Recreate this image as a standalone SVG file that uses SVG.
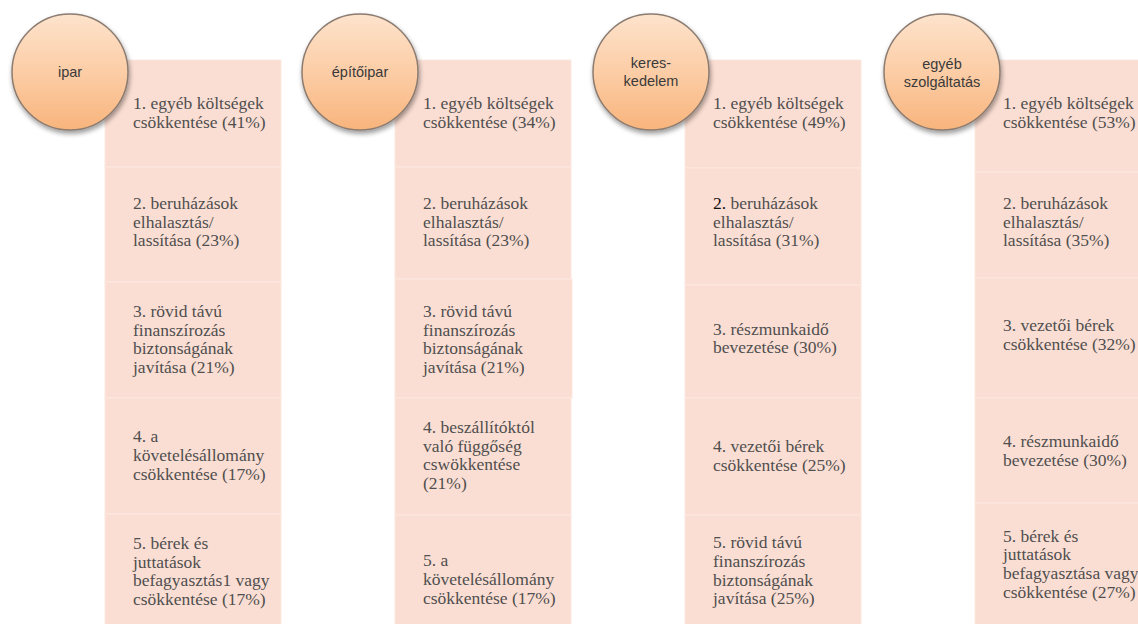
<svg xmlns="http://www.w3.org/2000/svg" width="1138" height="624" viewBox="0 0 1138 624">
<defs>
<linearGradient id="cg" x1="0" y1="0" x2="0" y2="1">
<stop offset="0" stop-color="#fde3cc"/>
<stop offset="0.5" stop-color="#fccda6"/>
<stop offset="1" stop-color="#f8b47c"/>
</linearGradient>
<filter id="sh" x="-30%" y="-30%" width="160%" height="160%">
<feGaussianBlur in="SourceAlpha" stdDeviation="2.5"/>
<feOffset dx="1" dy="3" result="b"/>
<feComponentTransfer><feFuncA type="linear" slope="0.4"/></feComponentTransfer>
<feMerge><feMergeNode/><feMergeNode in="SourceGraphic"/></feMerge>
</filter>
</defs>
<style>
.row{fill:#fbded3;stroke:#fce8e0;stroke-width:1}
.t{font-family:"Liberation Serif","Times New Roman",serif;font-size:17.5px;fill:#4f4f4f}
.c{fill:url(#cg);stroke:#8c7b70;stroke-width:1.5;filter:url(#sh)}
.ct{font-family:"Liberation Sans",Arial,sans-serif;font-size:14.5px;fill:#3a3a3a;text-anchor:middle}
</style>
<rect width="1138" height="624" fill="#ffffff"/>
<g id="connectors"></g>

<g id="col1">
<rect class="row" x="105" y="60" width="176" height="107"/>
<rect class="row" x="105" y="167" width="176" height="115"/>
<rect class="row" x="105" y="282" width="176" height="116"/>
<rect class="row" x="105" y="398" width="176" height="116"/>
<rect class="row" x="105" y="514" width="176" height="112"/>
<text class="t" x="133" y="109.1"><tspan x="133">1. egyéb költségek</tspan><tspan x="133" dy="18.8">csökkentése (41%)</tspan></text>
<text class="t" x="133" y="208.7"><tspan x="133">2. beruházások</tspan><tspan x="133" dy="18.8">elhalasztás/</tspan><tspan x="133" dy="18.8">lassítása (23%)</tspan></text>
<text class="t" x="133" y="316.8"><tspan x="133">3. rövid távú</tspan><tspan x="133" dy="18.8">finanszírozás</tspan><tspan x="133" dy="18.8">biztonságának</tspan><tspan x="133" dy="18.8">javítása (21%)</tspan></text>
<text class="t" x="133" y="442.2"><tspan x="133">4. a</tspan><tspan x="133" dy="18.8">követelésállomány</tspan><tspan x="133" dy="18.8">csökkentése (17%)</tspan></text>
<text class="t" x="133" y="548.8"><tspan x="133">5. bérek és</tspan><tspan x="133" dy="18.8">juttatások</tspan><tspan x="133" dy="18.8">befagyasztás1 vagy</tspan><tspan x="133" dy="18.8">csökkentése (17%)</tspan></text>
</g>
<g id="node-ipar">
<circle class="c" cx="70" cy="72" r="58"/>
<text class="ct" x="70" y="77">ipar</text>
</g>

<g id="col2">
<rect class="row" x="395" y="60" width="176" height="107"/>
<rect class="row" x="395" y="167" width="176" height="112"/>
<rect class="row" x="395" y="279" width="177" height="119"/>
<rect class="row" x="395" y="398" width="176" height="117"/>
<rect class="row" x="395" y="515" width="176" height="111"/>
<text class="t" x="423" y="109.1"><tspan x="423">1. egyéb költségek</tspan><tspan x="423" dy="18.8">csökkentése (34%)</tspan></text>
<text class="t" x="423" y="208.7"><tspan x="423">2. beruházások</tspan><tspan x="423" dy="18.8">elhalasztás/</tspan><tspan x="423" dy="18.8">lassítása (23%)</tspan></text>
<text class="t" x="423" y="316.8"><tspan x="423">3. rövid távú</tspan><tspan x="423" dy="18.8">finanszírozás</tspan><tspan x="423" dy="18.8">biztonságának</tspan><tspan x="423" dy="18.8">javítása (21%)</tspan></text>
<text class="t" x="423" y="432.8"><tspan x="423">4. beszállítóktól</tspan><tspan x="423" dy="18.8">való függőség</tspan><tspan x="423" dy="18.8">cswökkentése</tspan><tspan x="423" dy="18.8">(21%)</tspan></text>
<text class="t" x="423" y="566.2"><tspan x="423">5. a</tspan><tspan x="423" dy="18.8">követelésállomány</tspan><tspan x="423" dy="18.8">csökkentése (17%)</tspan></text>
</g>
<g id="node-epitoipar">
<circle class="c" cx="360" cy="72" r="58"/>
<text class="ct" x="360" y="77">építőipar</text>
</g>

<g id="col3">
<rect class="row" x="685" y="60" width="176" height="108"/>
<rect class="row" x="685" y="168" width="176" height="117"/>
<rect class="row" x="685" y="285" width="176" height="113"/>
<rect class="row" x="685" y="398" width="176" height="117"/>
<rect class="row" x="685" y="515" width="176" height="111"/>
<text class="t" x="713" y="109.1"><tspan x="713">1. egyéb költségek</tspan><tspan x="713" dy="18.8">csökkentése (49%)</tspan></text>
<text class="t" x="713" y="208.7"><tspan x="713"><tspan fill="#111111">2.</tspan> beruházások</tspan><tspan x="713" dy="18.8">elhalasztás/</tspan><tspan x="713" dy="18.8">lassítása (31%)</tspan></text>
<text class="t" x="713" y="334.6"><tspan x="713">3. részmunkaidő</tspan><tspan x="713" dy="18.8">bevezetése (30%)</tspan></text>
<text class="t" x="713" y="452"><tspan x="713">4. vezetői bérek</tspan><tspan x="713" dy="18.8">csökkentése (25%)</tspan></text>
<text class="t" x="713" y="548"><tspan x="713">5. rövid távú</tspan><tspan x="713" dy="18.8">finanszírozás</tspan><tspan x="713" dy="18.8">biztonságának</tspan><tspan x="713" dy="18.8">javítása (25%)</tspan></text>
</g>
<g id="node-kereskedelem">
<circle class="c" cx="651" cy="72" r="58"/>
<text class="ct" x="651" y="68">keres-</text>
<text class="ct" x="651" y="86">kedelem</text>
</g>

<g id="col4">
<rect class="row" x="975" y="60" width="176" height="112"/>
<rect class="row" x="975" y="172" width="176" height="106"/>
<rect class="row" x="975" y="278" width="176" height="120"/>
<rect class="row" x="975" y="398" width="176" height="105"/>
<rect class="row" x="975" y="503" width="176" height="123"/>
<text class="t" x="1003" y="109.1"><tspan x="1003">1. egyéb költségek</tspan><tspan x="1003" dy="18.8">csökkentése (53%)</tspan></text>
<text class="t" x="1003" y="208.7"><tspan x="1003">2. beruházások</tspan><tspan x="1003" dy="18.8">elhalasztás/</tspan><tspan x="1003" dy="18.8">lassítása (35%)</tspan></text>
<text class="t" x="1003" y="331"><tspan x="1003">3. vezetői bérek</tspan><tspan x="1003" dy="18.8">csökkentése (32%)</tspan></text>
<text class="t" x="1003" y="447"><tspan x="1003">4. részmunkaidő</tspan><tspan x="1003" dy="18.8">bevezetése (30%)</tspan></text>
<text class="t" x="1003" y="541.5"><tspan x="1003">5. bérek és</tspan><tspan x="1003" dy="18.8">juttatások</tspan><tspan x="1003" dy="18.8">befagyasztása vagy</tspan><tspan x="1003" dy="18.8">csökkentése (27%)</tspan></text>
</g>
<g id="node-egyeb-szolgaltatas">
<circle class="c" cx="942" cy="72" r="58"/>
<text class="ct" x="942" y="69">egyéb</text>
<text class="ct" x="942" y="87">szolgáltatás</text>
</g>
</svg>
